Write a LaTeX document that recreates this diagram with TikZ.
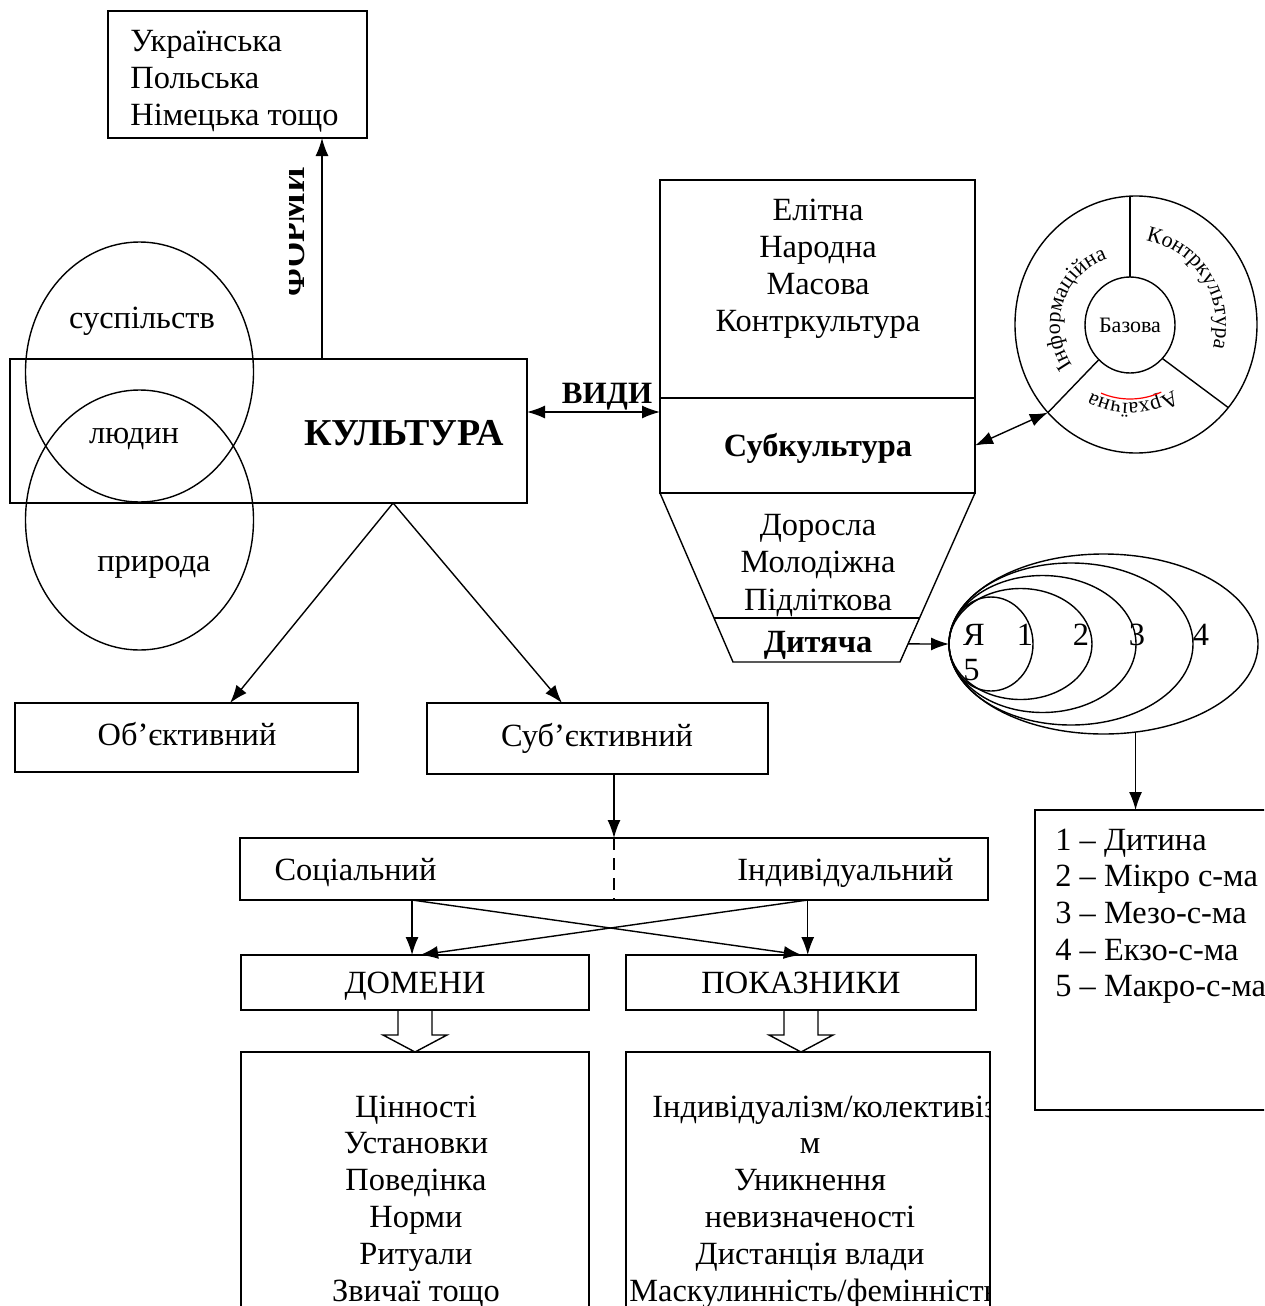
\documentclass[tikz,border=0pt]{standalone}
\usepackage{fontspec}
\setmainfont{Liberation Serif}
\usetikzlibrary{shapes.geometric, positioning, calc, arrows.meta, decorations.text}
\newcommand{\mainsize}{\fontsize{16.2pt}{18.3pt}\selectfont}
\newcommand{\bigsize}{\fontsize{19pt}{21pt}\selectfont}
\newcommand{\smallsize}{\fontsize{11pt}{12pt}\selectfont}

\begin{document}
\begin{tikzpicture}[x=0.5pt, y=-0.5pt,
    every node/.style={font=\mainsize},
    box/.style={draw, line width=0.8pt, inner sep=0pt, outer sep=0pt},
    ring/.style={draw, ellipse, line width=0.7pt, inner sep=0pt, outer sep=0pt},
    txt/.style={inner sep=0pt, anchor=base},
    arr/.style={-{Latex[length=9pt, width=6.5pt]}, line width=0.7pt},
    dbl/.style={{Latex[length=9pt, width=6.5pt]}-{Latex[length=9pt, width=6.5pt]}, line width=0.7pt}]
  \useasboundingbox (0,0) rectangle (1264,1306);
  \clip (0,0) rectangle (1264,1306);

  % FORMS

  \node[box, minimum width=129.5pt, minimum height=63.5pt] (forms) at (237.5,74.5) {};
  \foreach \lbl [count=\i] in {Українська, Польська, Німецька тощо}
    \node[txt, anchor=base west] (lang\i) at (130,15.3+36.6*\i) {\lbl};

  % CULTURE

  \node[box, minimum width=258.5pt, minimum height=72pt] (kult) at (268.5,431) {};
  \node[ring, minimum width=114pt, minimum height=130pt] (soc) at (139.5,372) {};
  \node[ring, minimum width=114pt, minimum height=130pt] (nat) at (139.5,520) {};
  \node[txt] (soctext) at (142,328) {суспільств};
  \node[txt] (humtext) at (134,443) {людин};
  \node[txt] (nattext) at (154,571) {природа};
  \node[txt, font=\bigsize\bfseries] (kulttext) at (404,445) {КУЛЬТУРА};

  \coordinate (fb) at ($(kult.north west)!0.6035!(kult.north east)$);
  \draw[arr] (fb) -- (fb |- forms.south);
  \begin{scope}
    \clip (289,150) rectangle (318,300);
    \node[txt, rotate=90, font=\mainsize\bfseries] (formslabel) at (304,232) {ФОРМИ};
  \end{scope}

  % KINDS

  \node[box, minimum width=157.5pt, minimum height=109pt] (types) at (817.5,289) {};
  \node[box, minimum width=157.5pt, minimum height=47.5pt] (sub) at (817.5,445.5) {};
  \foreach \lbl [count=\i] in {Елітна, Народна, Масова, Контркультура}
    \node[txt] (type\i) at (818,183+37*\i) {\lbl};
  \node[txt, font=\mainsize\bfseries] (subtext) at (818,456) {Субкультура};

  \coordinate (vl) at ([yshift=9.5pt]kult.east);
  \draw[dbl] (vl) -- (vl -| types.west);
  \node[txt, font=\fontsize{15.5pt}{18pt}\selectfont\bfseries] (vidy) at (607,403) {ВИДИ};

  % AGES

  \coordinate (tl) at (sub.south west);
  \coordinate (tr) at (sub.south east);
  \coordinate (bl) at ($(tl)+(73,169)$);
  \coordinate (br) at ($(tr)+(-75,169)$);
  \draw[line width=0.7pt] (tl) -- (bl) -- (br) -- (tr);
  \draw[line width=0.7pt] ($(tl)!0.74!(bl)$) -- ($(tr)!0.74!(br)$);
  \foreach \lbl [count=\i] in {Доросла, Молодіжна, Підліткова}
    \node[txt] (age\i) at (818,497.5+37.5*\i) {\lbl};
  \node[txt, font=\mainsize\bfseries] (child) at (818,652) {Дитяча};

  % SUBCULTURE CIRCLE

  \node[ring, minimum width=121pt, minimum height=128.5pt] (outer) at (1136,324.5) {};
  \node[ring, minimum width=45pt, minimum height=48pt, font=\smallsize] (inner) at (1130,325) {Базова};
  \draw[line width=0.7pt] (inner.north) -- (inner.north |- outer.north);
  \draw[line width=0.7pt] (inner.228) -- (outer.225);
  \draw[line width=0.7pt] (inner.314) -- (outer.318);
  \begin{scope}[shift={(inner.center)}]
    \path[decorate, decoration={text along path, text align=center,
      text={|\smallsize|Інформаційна}}]
      (222:35pt) arc[start angle=222, end angle=102, radius=35pt];
    \path[decorate, decoration={text along path, text align=center,
      text={|\smallsize|Контркультура}}]
      (92:43pt) arc[start angle=92, end angle=-28, radius=43pt];
    \path[decorate, decoration={text along path, text align=center,
      text={|\smallsize|Архаїчна}}]
      (-28:39pt) arc[start angle=-28, end angle=-148, radius=39pt];
    \draw[red, line width=0.6pt] (-65:37pt) arc[start angle=-65, end angle=-113, radius=37pt];
  \end{scope}
  \draw[dbl] (sub.east) -- (outer.225);

  % SYSTEMS

  \foreach \w/\h [count=\i] in {84/94, 143/111, 187/137, 244/162, 309/180}
    \node[ring, minimum width={\w*0.5pt}, minimum height={\h*0.5pt}] (e\i) at (949+\w/2,644) {};
  \foreach \lbl/\px/\py [count=\i] in {Я/974/645, 1/1025/645, 2/1081/645, 3/1137/645, 4/1201/645, 5/971.5/680}
    \node[txt] (sys\i) at (\px,\py) {\lbl};
  \coordinate (cr) at ($(tr)!0.893!(br)$);
  \draw[arr] (cr) -- (e1.west);

  \node[box, minimum width=132.5pt, minimum height=150pt] (legend) at (1167.5,960) {};
  \draw[arr] (e5.290) -- (e5.290 |- legend.north);
  \foreach \lbl [count=\i] in {1 – Дитина, 2 – Мікро с-ма, 3 – Мезо-с-ма, 4 – Екзо-с-ма, 5 – Макро-с-ма}
    \node[txt, anchor=base west] (leg\i) at (1055,813.3+36.7*\i) {\lbl};

  % OBJECTIVE / SUBJECTIVE

  \node[box, minimum width=171.5pt, minimum height=34.5pt] (obj) at (186.5,737.5) {};
  \node[txt] (objtext) at (187,745) {Об’єктивний};
  \node[box, minimum width=170.5pt, minimum height=35.5pt] (subj) at (597.5,738.5) {};
  \node[txt] (subjtext) at (597,746) {Суб’єктивний};
  \coordinate (kb) at ($(kult.south west)!0.741!(kult.south east)$);
  \draw[arr] (kb) -- ($(obj.north west)!0.627!(obj.north east)$);
  \draw[arr] (kb) -- ($(subj.north west)!0.396!(subj.north east)$);

  % SOCIAL / INDIVIDUAL

  \node[box, minimum width=374pt, minimum height=31pt] (social) at (614,869) {};
  \draw[dashed, dash pattern=on 6pt off 4pt, line width=0.7pt] (social.north) -- (social.south);
  \node[txt] (socialtext) at (355.5,880) {Соціальний};
  \node[txt] (indivtext) at (845.5,880) {Індивідуальний};
  \draw[arr] (social.north |- subj.south) -- (social.north);

  \node[box, minimum width=174pt, minimum height=27.5pt] (dom) at (415,982.5) {};
  \node[box, minimum width=175pt, minimum height=27.5pt] (ind) at (801,982.5) {};
  \node[txt] (domtext) at (415,993) {ДОМЕНИ};
  \node[txt] (indtext) at (801,993) {ПОКАЗНИКИ};

  \coordinate (s1) at ($(social.south west)!0.23!(social.south east)$);
  \coordinate (s2) at ($(social.south west)!0.759!(social.south east)$);
  \coordinate (t1) at (s1 |- dom.north);
  \coordinate (t2) at (s2 |- ind.north);
  \draw[arr] (s1) -- (t1);
  \draw[arr] (s2) -- (t2);
  \draw[arr] (s1) -- ([xshift=-3pt]t2);
  \draw[arr] (s2) -- ([xshift=4pt]t1);

  \foreach \n in {dom, ind}
    \draw[line width=0.7pt] ($(\n.south)+(-17,0)$) -- ++(0,25) -- ++(-15,0)
      -- ($(\n.south)+(0,42)$) -- ++(32,-17) -- ++(-15,0) -- ++(0,-25);

  % LISTS

  \node[box, minimum width=174pt, minimum height=139pt] (values) at (415,1191) {};
  \node[box, minimum width=182pt, minimum height=139pt] (indic) at (808,1191) {};
  \foreach \lbl [count=\i] in {Цінності, Установки, Поведінка, Норми, Ритуали, Звичаї тощо}
    \node[txt] (val\i) at (416,1080.2+36.8*\i) {\lbl};

  \begin{scope}
    \clip (indic.north west) rectangle (indic.south east);
    \node[txt, anchor=base west] (ind1) at (652,1117) {Індивідуалізм/колективізм};
    \foreach \lbl [count=\i from 2] in {м, Уникнення, невизначеності, Дистанція влади}
      \node[txt] (ind\i) at (810,1080.2+36.8*\i) {\lbl};
    \node[txt, anchor=base west] (ind6) at (629,1301) {Маскулинність/фемінність};
  \end{scope}
\end{tikzpicture}
\end{document}
